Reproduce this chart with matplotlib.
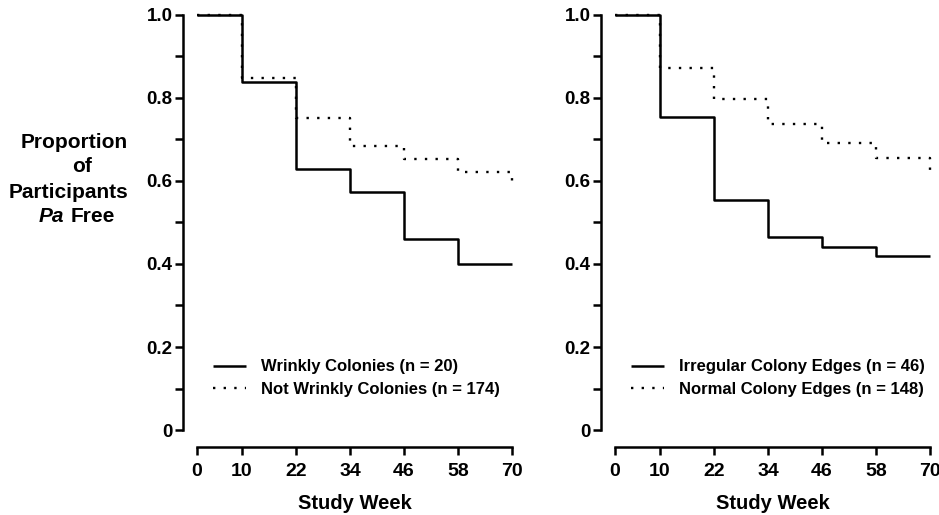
import matplotlib.pyplot as plt

plt.rcParams['font.family'] = ['Liberation Sans', 'DejaVu Sans']
plt.rcParams['font.weight'] = 'bold'

# 数据: 研究周 和 各组比例
weeks = [0, 10, 22, 34, 46, 58, 70]
wrinkly = [1.0, 0.839, 0.628, 0.573, 0.460, 0.400, 0.400]
not_wrinkly = [1.0, 0.848, 0.751, 0.684, 0.652, 0.621, 0.601]
irregular = [1.0, 0.753, 0.554, 0.464, 0.442, 0.420, 0.420]
normal = [1.0, 0.872, 0.797, 0.737, 0.692, 0.655, 0.627]

labels_left = ["Wrinkly Colonies (n = 20)", "Not Wrinkly Colonies (n = 174)"]
labels_right = ["Irregular Colony Edges (n = 46)", "Normal Colony Edges (n = 148)"]
y_ticks = [0, 0.2, 0.4, 0.6, 0.8, 1.0]
y_ticklabels = ["0", "0.2", "0.4", "0.6", "0.8", "1.0"]

fig = plt.figure(figsize=(9.39, 5.15), dpi=100)
ax1 = fig.add_axes([0.2098, 0.165, 0.3355, 0.806])
ax2 = fig.add_axes([0.655, 0.165, 0.3355, 0.806])

dotted = (0, (1, 3.5))


def draw_panel(ax, y_solid, y_dot, labels):
    ax.step(weeks, y_solid, where='post', color='black', lw=1.8,
            solid_capstyle='butt', clip_on=False, label=labels[0])
    ax.step(weeks, y_dot, where='post', color='black', lw=1.7,
            linestyle=dotted, clip_on=False, label=labels[1])

    ax.set_xlim(0, 70)
    ax.set_ylim(0, 1.0)
    ax.set_xticks(weeks)
    ax.set_xticklabels([str(w) for w in weeks])
    ax.set_yticks(y_ticks)
    ax.set_yticklabels(y_ticklabels)
    ax.set_yticks([0.1, 0.3, 0.5, 0.7, 0.9], minor=True)

    for s in ['top', 'right']:
        ax.spines[s].set_visible(False)
    ax.spines['left'].set_position(('outward', 10))
    ax.spines['bottom'].set_position(('outward', 12))
    ax.spines['left'].set_linewidth(1.8)
    ax.spines['bottom'].set_linewidth(1.8)

    ax.tick_params(axis='both', which='both', width=1.8, length=6,
                   direction='out')
    ax.tick_params(axis='x', pad=5.5, labelsize=14)
    ax.tick_params(axis='y', pad=1.5, labelsize=13.5)
    for t in ax.get_xticklabels() + ax.get_yticklabels():
        t.set_fontweight('bold')

    ax.set_xlabel("Study Week", fontsize=14.5, fontweight='bold', labelpad=10)

    ax.legend(loc='upper left', bbox_to_anchor=(0.05, 0.17), frameon=False,
              handlelength=2.0, handletextpad=0.9,
              borderpad=0, borderaxespad=0, labelspacing=0.45,
              prop={'weight': 'bold', 'size': 12})


draw_panel(ax1, wrinkly, not_wrinkly, labels_left)
draw_panel(ax2, irregular, normal, labels_right)

# 纵轴标题 (水平放置)
fs = 15
fig.text(74 / 939, 1 - 142 / 515, "Proportion", ha='center', va='center',
         fontsize=fs, fontweight='bold')
fig.text(82 / 939, 1 - 167 / 515, "of", ha='center', va='center',
         fontsize=fs, fontweight='bold')
fig.text(68 / 939, 1 - 192 / 515, "Participants", ha='center', va='center',
         fontsize=fs, fontweight='bold')
fig.text(64 / 939, 1 - 216 / 515, "Pa", ha='right', va='center',
         fontsize=fs, fontweight='bold', fontstyle='italic')
fig.text(71 / 939, 1 - 216 / 515, "Free", ha='left', va='center',
         fontsize=fs, fontweight='bold')

fig.savefig("out.png", dpi=100)
